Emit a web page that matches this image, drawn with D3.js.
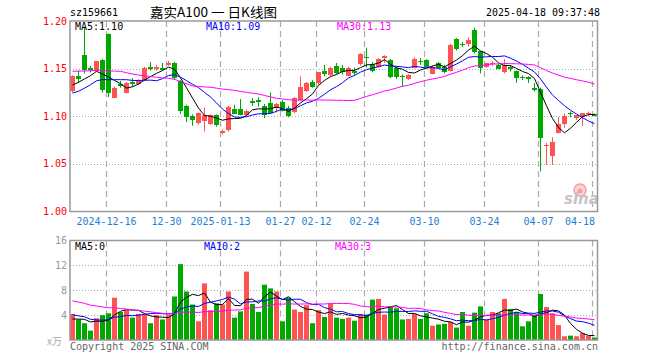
<!DOCTYPE html>
<html>
<head>
<meta charset="utf-8">
<script src="https://cdn.jsdelivr.net/npm/d3@7/dist/d3.min.js"></script>
<style>
  body { margin: 0; background: #fff; }
  text { font-family: "DejaVu Sans Mono", monospace; font-size: 10px; }
</style>
</head>
<body>
<div class="container"></div>
<script>
// trading days shown on the chart
const dates = [
  "2024-12-06","2024-12-09","2024-12-10","2024-12-11","2024-12-12","2024-12-13",
  "2024-12-16","2024-12-17","2024-12-18","2024-12-19","2024-12-20",
  "2024-12-23","2024-12-24","2024-12-25","2024-12-26","2024-12-27",
  "2024-12-30","2024-12-31","2025-01-02","2025-01-03",
  "2025-01-06","2025-01-07","2025-01-08","2025-01-09","2025-01-10",
  "2025-01-13","2025-01-14","2025-01-15","2025-01-16","2025-01-17",
  "2025-01-20","2025-01-21","2025-01-22","2025-01-23","2025-01-24",
  "2025-01-27","2025-02-05","2025-02-06","2025-02-07",
  "2025-02-10","2025-02-11","2025-02-12","2025-02-13","2025-02-14",
  "2025-02-17","2025-02-18","2025-02-19","2025-02-20","2025-02-21",
  "2025-02-24","2025-02-25","2025-02-26","2025-02-27","2025-02-28",
  "2025-03-03","2025-03-04","2025-03-05","2025-03-06","2025-03-07",
  "2025-03-10","2025-03-11","2025-03-12","2025-03-13","2025-03-14",
  "2025-03-17","2025-03-18","2025-03-19","2025-03-20","2025-03-21",
  "2025-03-24","2025-03-25","2025-03-26","2025-03-27","2025-03-28",
  "2025-03-31","2025-04-01","2025-04-02","2025-04-03",
  "2025-04-07","2025-04-08","2025-04-09","2025-04-10","2025-04-11",
  "2025-04-14","2025-04-15","2025-04-16","2025-04-17","2025-04-18"
];

const opens = [
  1.126,1.142,1.164,1.151,1.148,1.159,1.186,1.120,1.134,1.125,
  1.136,1.134,1.138,1.152,1.150,1.151,1.154,1.156,1.137,1.111,
  1.100,1.092,1.095,1.092,1.101,1.082,1.086,1.108,1.108,1.101,
  1.116,1.117,1.111,1.114,1.109,1.115,1.109,1.104,1.117,1.127,
  1.136,1.134,1.148,1.144,1.153,1.151,1.143,1.148,1.154,1.162,
  1.155,1.152,1.161,1.159,1.151,1.142,1.139,1.151,1.158,1.159,
  1.145,1.156,1.152,1.148,1.181,1.176,1.176,1.191,1.168,1.152,
  1.155,1.154,1.147,1.152,1.148,1.141,1.141,1.130,1.129,1.069,
  1.058,1.083,1.092,1.103,1.098,1.099,1.102,1.102
];
const highs = [
  1.143,1.148,1.194,1.153,1.158,1.160,1.187,1.131,1.137,1.136,
  1.140,1.139,1.152,1.157,1.154,1.156,1.158,1.157,1.138,1.112,
  1.102,1.104,1.109,1.102,1.102,1.086,1.111,1.112,1.118,1.107,
  1.119,1.120,1.113,1.125,1.114,1.117,1.111,1.120,1.142,1.136,
  1.138,1.146,1.154,1.152,1.156,1.154,1.152,1.151,1.166,1.172,
  1.157,1.161,1.164,1.160,1.152,1.144,1.144,1.162,1.161,1.160,
  1.153,1.157,1.154,1.176,1.182,1.178,1.183,1.193,1.168,1.156,
  1.158,1.155,1.160,1.153,1.148,1.143,1.142,1.135,1.130,1.072,
  1.078,1.099,1.103,1.105,1.101,1.103,1.105,1.103
];
const lows = [
  1.125,1.135,1.145,1.146,1.147,1.125,1.120,1.119,1.130,1.124,
  1.131,1.133,1.137,1.148,1.148,1.148,1.153,1.138,1.102,1.094,
  1.090,1.091,1.084,1.091,1.089,1.081,1.084,1.102,1.101,1.100,
  1.111,1.110,1.098,1.103,1.104,1.105,1.099,1.103,1.116,1.126,
  1.130,1.133,1.142,1.142,1.144,1.144,1.142,1.143,1.153,1.151,
  1.146,1.151,1.156,1.140,1.139,1.131,1.138,1.150,1.154,1.151,
  1.144,1.150,1.145,1.147,1.169,1.173,1.173,1.166,1.145,1.151,
  1.153,1.150,1.145,1.147,1.135,1.138,1.135,1.126,1.042,1.049,
  1.049,1.082,1.088,1.099,1.096,1.090,1.100,1.100
];
const closes = [
  1.142,1.139,1.148,1.149,1.158,1.127,1.124,1.130,1.132,1.135,
  1.134,1.138,1.151,1.150,1.152,1.149,1.156,1.140,1.105,1.099,
  1.096,1.103,1.101,1.101,1.090,1.084,1.110,1.103,1.102,1.105,
  1.114,1.115,1.102,1.104,1.113,1.106,1.101,1.119,1.131,1.135,
  1.131,1.146,1.145,1.151,1.146,1.147,1.151,1.146,1.165,1.161,
  1.148,1.160,1.163,1.141,1.142,1.141,1.143,1.160,1.157,1.152,
  1.152,1.151,1.147,1.175,1.170,1.175,1.180,1.168,1.150,1.156,
  1.156,1.150,1.154,1.150,1.141,1.140,1.139,1.128,1.078,1.070,
  1.073,1.092,1.100,1.102,1.101,1.103,1.103,1.100
];
// volume, 万手
const volumes = [
  4.2,3.3,2.7,1.5,3.5,4.0,4.3,6.8,4.5,4.8,
  3.6,4.2,4.1,2.7,4.0,3.3,4.0,7.0,12.2,7.8,
  5.7,3.0,9.1,4.8,5.9,5.7,7.8,3.6,4.6,11.0,
  5.8,4.5,8.9,8.3,7.8,3.0,6.8,4.9,4.5,5.6,
  2.7,4.8,3.7,5.8,3.6,3.4,3.6,3.1,4.2,4.1,
  6.5,6.6,4.1,5.4,5.1,3.3,3.4,4.2,3.4,4.3,
  2.3,2.5,2.6,2.9,2.0,4.5,2.3,4.4,5.4,3.3,
  4.5,4.3,6.6,5.0,4.5,2.2,3.0,4.0,7.4,5.3,
  4.3,2.4,0.6,0.7,0.6,1.1,0.7,0.4
];
// 29 sessions before the first shown day (estimated from where the MA lines start)
const earlierCloses = [
  1.136,1.140,1.144,1.138,1.134,1.138,1.140,1.137,
  1.180,1.176,1.169,1.172,1.178,1.174,1.167,1.169,1.172,1.176,1.167,1.165,
  1.121,1.115,1.113,1.117,1.114,
  1.125,1.130,1.132,1.135
];
const earlierVolumes = [
  9.5,8.8,10.2,7.5,8.1,9.0,6.8,7.9,7.2,8.4,6.5,7.0,6.3,7.7,6.6,6.8,
  6.2,5.4,6.9,5.6,
  5.1,4.2,5.6,4.3,4.5,
  3.4,2.9,3.6,2.8
];

const priceTicks = [1.00, 1.05, 1.10, 1.15, 1.20];
const volumeTicks = [4, 8, 12, 16];
const dateTicks = ["2024-12-16","2024-12-30","2025-01-13","2025-01-27","2025-02-12",
                   "2025-02-24","2025-03-10","2025-03-24","2025-04-07","2025-04-18"];
const dateLabels = ["2024-12-16","12-30","2025-01-13","01-27","02-12",
                    "02-24","03-10","03-24","04-07","04-18"];
const maPeriods = [5, 10, 30];
const maColors = ["#000", "#0000ff", "#ff00ff"];

const width = 660, height = 360;
const left = 70, right = 597;
const RED = "#ff5353", GREEN = "#00a800", GRID = "#aaa", FRAME = "#999";

const svg = d3.select(".container").append("svg")
    .attr("width", width).attr("height", height);

const x = d3.scaleBand().domain(dates).range([left, right]).paddingInner(1 / 6).paddingOuter(0);
const bw = 5;
const xl = d => Math.round(x(d));
const xc = d => Math.round(x(d)) + 2.5;

const yP = d3.scaleLinear().domain([1.00, 1.20]).range([211.5, 21]);
const yV = d3.scaleLinear().domain([0, 16]).range([340, 240.5]);

// moving averages over the price and volume series
function movingAvg(prior, values, n) {
    const all = prior.concat(values);
    return values.map((v, i) => d3.mean(all.slice(i + prior.length - n + 1, i + prior.length + 1)));
}
const priceMA = maPeriods.map(n => movingAvg(earlierCloses, closes, n));
const volMA = maPeriods.map(n => movingAvg(earlierVolumes, volumes, n));

const isUp = dates.map((d, i) => closes[i] > opens[i] ||
    (closes[i] === opens[i] && closes[i] >= (i ? closes[i - 1] : earlierCloses[28])));

// ---- header
svg.append("text").attr("x", 70).attr("y", 16).style("font-size", "11px")
    .attr("textLength", 48).attr("lengthAdjust", "spacingAndGlyphs").text("sz159661");
svg.append("text").attr("x", 150).attr("y", 17)
    .style("font-family", "'Noto Sans CJK SC', sans-serif").style("font-size", "13px")
    .attr("textLength", 127).attr("lengthAdjust", "spacingAndGlyphs").text("嘉实A100 一 日K线图");
svg.append("text").attr("x", 600).attr("y", 16).attr("text-anchor", "end").style("font-size", "11px")
    .attr("textLength", 114).attr("lengthAdjust", "spacingAndGlyphs").text("2025-04-18 09:37:48");

// ---- grids
const grid = svg.append("g");
grid.selectAll("line.hp").data(priceTicks.slice(1, 4)).enter().append("line")
    .attr("x1", left).attr("x2", right).attr("y1", d => Math.round(yP(d)) + 0.5).attr("y2", d => Math.round(yP(d)) + 0.5)
    .attr("stroke", GRID).attr("stroke-dasharray", "1,2");
grid.selectAll("line.hv").data(volumeTicks.slice(0, 3)).enter().append("line")
    .attr("x1", left).attr("x2", right).attr("y1", d => Math.round(yV(d)) + 0.5).attr("y2", d => Math.round(yV(d)) + 0.5)
    .attr("stroke", GRID).attr("stroke-dasharray", "1,2");
[[21, 211.5], [240.5, 340]].forEach(([y0, y1]) => {
    grid.selectAll(null).data(dateTicks).enter().append("line")
        .attr("x1", d => xl(d) + 0.5).attr("x2", d => xl(d) + 0.5)
        .attr("y1", y0).attr("y2", y1)
        .attr("stroke", GRID).attr("stroke-width", 1.2).attr("stroke-dasharray", "6,4");
});

// ---- sina watermark
const wm = svg.append("g");
wm.append("circle").attr("cx", 580).attr("cy", 190).attr("r", 6)
    .attr("fill", "#fbd6d6").attr("stroke", "#f2a0a0").attr("stroke-width", 1.5);
wm.append("circle").attr("cx", 580).attr("cy", 191).attr("r", 2.5).attr("fill", "#f2a0a0");
wm.append("text").attr("x", 564).attr("y", 204)
    .style("font-family", "'DejaVu Sans', sans-serif").style("font-size", "15px")
    .style("font-weight", "bold").style("font-style", "italic").attr("fill", "#c4c4c4").text("sina");

// ---- candles
const candles = svg.append("g").selectAll("g").data(dates).enter().append("g");
candles.append("line")
    .attr("x1", xc).attr("x2", xc)
    .attr("y1", (d, i) => yP(highs[i])).attr("y2", (d, i) => yP(lows[i]))
    .attr("stroke", (d, i) => isUp[i] ? RED : GREEN);
candles.append("rect")
    .attr("x", xl).attr("width", bw)
    .attr("y", (d, i) => Math.round(yP(Math.max(opens[i], closes[i]))))
    .attr("height", (d, i) => Math.max(1, Math.round(Math.abs(yP(opens[i]) - yP(closes[i])))))
    .attr("fill", (d, i) => isUp[i] ? RED : GREEN);

// ---- volume bars
svg.append("g").selectAll("rect").data(dates).enter().append("rect")
    .attr("x", xl).attr("width", bw)
    .attr("y", (d, i) => yV(volumes[i]))
    .attr("height", (d, i) => yV(0) - yV(volumes[i]))
    .attr("fill", (d, i) => isUp[i] ? RED : GREEN);

// ---- MA lines
const priceLine = d3.line().x((v, i) => xc(dates[i])).y(v => yP(v));
const volLine = d3.line().x((v, i) => xc(dates[i])).y(v => yV(v));
maPeriods.forEach((n, k) => {
    svg.append("path").attr("d", priceLine(priceMA[k])).attr("fill", "none")
        .attr("stroke", maColors[k]).attr("stroke-width", 1);
    svg.append("path").attr("d", volLine(volMA[k])).attr("fill", "none")
        .attr("stroke", maColors[k]).attr("stroke-width", 1);
});

// ---- frames
[[21, 211.5], [240.5, 340]].forEach(([y0, y1]) => {
    svg.append("rect").attr("x", left).attr("y", y0).attr("width", right - left + 0.5).attr("height", y1 - y0)
        .attr("fill", "none").attr("stroke", FRAME).attr("stroke-width", 1.5);
});

// ---- axis labels
svg.append("g").selectAll("text").data(priceTicks).enter().append("text")
    .attr("x", 67).attr("y", d => yP(d)).attr("dy", "0.35em").attr("text-anchor", "end")
    .attr("fill", "#f00").text(d => d.toFixed(2));
svg.append("g").selectAll("text").data(volumeTicks).enter().append("text")
    .attr("x", 67).attr("y", d => yV(d)).attr("dy", "0.35em").attr("text-anchor", "end")
    .attr("fill", "#999").text(d => d);
svg.append("text").attr("x", 47).attr("y", 345)
    .style("font-family", "'Noto Sans CJK SC', sans-serif").style("font-size", "10px")
    .attr("fill", "#aaa").text("x万");

svg.append("g").selectAll("text").data(dateTicks).enter().append("text")
    .attr("x", (d, i) => i === dateTicks.length - 1 ? right - 2 : xl(d) + 0.5)
    .attr("y", 225)
    .attr("text-anchor", (d, i) => i === dateTicks.length - 1 ? "end" : "middle")
    .attr("fill", "#1f7fd6").text((d, i) => dateLabels[i]);

// ---- MA legends
const last = dates.length - 1;
const priceLegendX = [75, 206, 337];
const volLegendX = [75, 204, 335];
maPeriods.forEach((n, k) => {
    svg.append("text").attr("x", priceLegendX[k]).attr("y", 30).attr("fill", maColors[k])
        .text(`MA${n}:${priceMA[k][last].toFixed(2)}`);
    svg.append("text").attr("x", volLegendX[k]).attr("y", 250).attr("fill", maColors[k])
        .text(`MA${n}:${Math.floor(volMA[k][last])}`);
});

// ---- footer
svg.append("text").attr("x", 70).attr("y", 350).attr("fill", "#666").text("Copyright 2025 SINA.COM");
svg.append("text").attr("x", 598).attr("y", 350).attr("text-anchor", "end").attr("fill", "#666")
    .text("http://finance.sina.com.cn");
</script>
</body>
</html>
